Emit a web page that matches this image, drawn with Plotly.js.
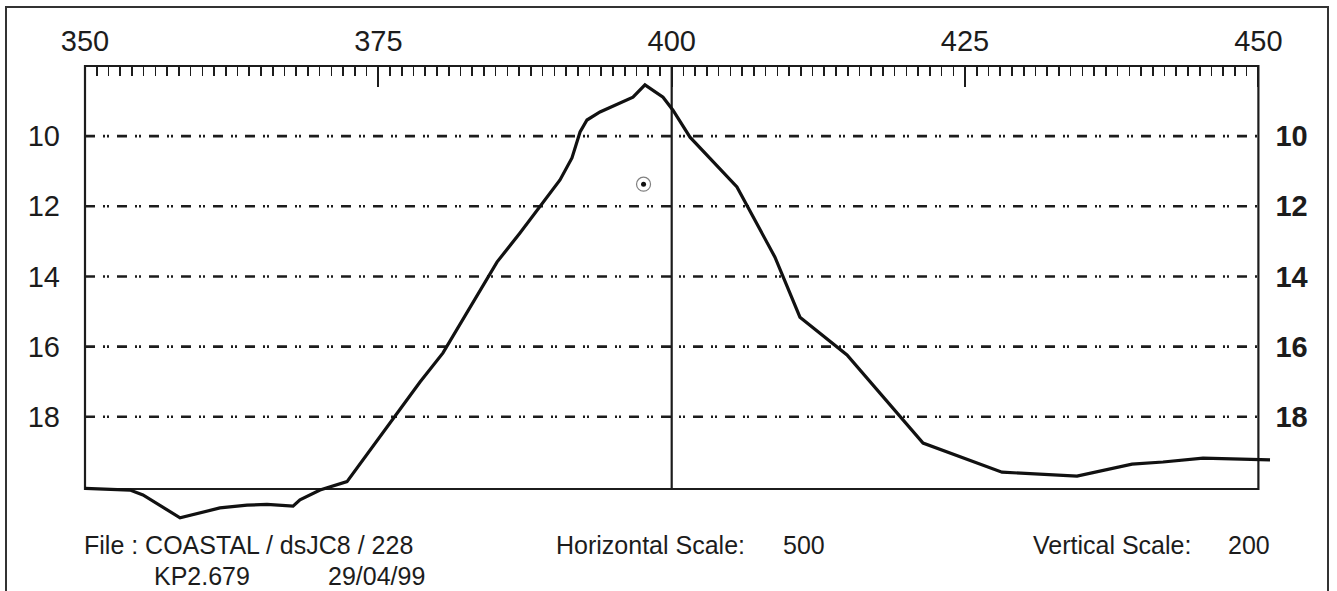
<!DOCTYPE html>
<html>
<head>
<meta charset="utf-8">
<script src="https://cdn.plot.ly/plotly-3.0.1.min.js"></script>
<style>
  html, body { margin: 0; padding: 0; background: #ffffff; }
  #chart { width: 1337px; height: 591px; }
</style>
</head>
<body>
<div id="chart"></div>
<script>
// ---------- data ----------
const xTickVals = [350, 375, 400, 425, 450];
const yTickVals = [10, 12, 14, 16, 18];

const profileX = [350.00, 353.84, 354.94, 358.10, 361.50, 363.81, 365.51, 367.73, 368.32, 370.03,
                  372.33, 378.55, 380.51, 382.81, 385.11, 387.07, 388.78, 390.48, 391.50, 392.19,
                  392.78, 393.89, 396.70, 397.72, 399.26, 400.11, 401.56, 405.56, 408.80, 410.93,
                  414.94, 421.42, 428.15, 434.54, 439.23, 441.87, 445.28, 450.99];
const profileY = [20.04, 20.09, 20.23, 20.88, 20.60, 20.52, 20.50, 20.55, 20.37, 20.09,
                  19.85, 17.01, 16.18, 14.87, 13.59, 12.76, 12.02, 11.25, 10.62, 9.88,
                  9.54, 9.31, 8.89, 8.54, 8.89, 9.26, 10.03, 11.45, 13.45, 15.16,
                  16.24, 18.75, 19.58, 19.69, 19.35, 19.29, 19.18, 19.23];

const markerX = [397.6];
const markerY = [11.37];

const fileLabel = 'File : COASTAL / dsJC8 / 228';
const kpLabel = 'KP2.679';
const dateLabel = '29/04/99';
const hScaleLabel = 'Horizontal Scale:';
const hScaleValue = '500';
const vScaleLabel = 'Vertical Scale:';
const vScaleValue = '200';

// ---------- layout geometry ----------
const W = 1337, H = 591;
const M = { l: 85, r: 61, t: 66, b: 62 };
const plotW = W - M.l - M.r, plotH = H - M.t - M.b;
const xRange = [350, 451.5];
const yRange = [21.2, 8];
const boxBottom = 20.06;
const FONT = 'Liberation Sans, Arial, Helvetica, sans-serif';
const INK = '#1c1c1c';

const pxX = v => (v - xRange[0]) / (xRange[1] - xRange[0]);   // data -> paper
const pxY = v => (yRange[0] - v) / (yRange[0] - yRange[1]);
const scrX = p => (p - M.l) / plotW;                            // screen px -> paper
const scrY = p => (H - M.b - p) / plotH;

const minorVals = [];
for (let v = xTickVals[0] + 1; v < xTickVals[xTickVals.length - 1]; v++) {
  if (xTickVals.indexOf(v) < 0) minorVals.push(v);
}

const shapes = [];
// horizontal dash-dot-dot grid lines
yTickVals.forEach(v => shapes.push({
  type: 'line', xref: 'x', yref: 'y', x0: xTickVals[0], x1: xTickVals[xTickVals.length - 1], y0: v, y1: v,
  line: { color: INK, width: 2.6, dash: '10px,8px,2px,2px,2px,8px' }, layer: 'below'
}));
// vertical line at 400
shapes.push({
  type: 'line', xref: 'x', yref: 'y', x0: xTickVals[2], x1: xTickVals[2], y0: yRange[1], y1: boxBottom,
  line: { color: INK, width: 2.2 }, layer: 'below'
});
// plot frame
shapes.push({
  type: 'rect', xref: 'paper', yref: 'paper',
  x0: pxX(xTickVals[0]), x1: pxX(xTickVals[xTickVals.length - 1]), y0: pxY(boxBottom), y1: pxY(yRange[1]),
  line: { color: INK, width: 2.2 }, fillcolor: 'rgba(0,0,0,0)', layer: 'below'
});
// outer page frame
shapes.push({
  type: 'rect', xref: 'paper', yref: 'paper',
  x0: scrX(6), x1: scrX(1328), y0: scrY(640), y1: scrY(7),
  line: { color: '#333', width: 2 }, fillcolor: 'rgba(0,0,0,0)', layer: 'below'
});

const annFont = { family: FONT, size: 25, color: INK };
const ann = (text, px, py) => ({
  text: text, xref: 'paper', yref: 'paper', x: scrX(px), y: scrY(py),
  xanchor: 'left', yanchor: 'middle', showarrow: false, font: annFont
});
const annotations = [
  ann(fileLabel, 82, 545),
  ann(kpLabel, 152, 576),
  ann(dateLabel, 326, 576),
  ann(hScaleLabel, 554, 545),
  ann(hScaleValue, 781, 545),
  ann(vScaleLabel, 1031, 545),
  ann(vScaleValue, 1226, 545)
];

const traces = [
  {
    x: profileX, y: profileY, type: 'scatter', mode: 'lines',
    line: { color: '#111', width: 3.2 }, hoverinfo: 'skip', showlegend: false
  },
  {
    x: markerX, y: markerY, type: 'scatter', mode: 'markers',
    marker: { symbol: 'circle-open', size: 14, color: '#808080', line: { color: '#808080', width: 1.2 } },
    hoverinfo: 'skip', showlegend: false
  },
  {
    x: markerX, y: markerY, type: 'scatter', mode: 'markers',
    marker: { symbol: 'circle', size: 5, color: '#111' },
    hoverinfo: 'skip', showlegend: false
  },
  { x: [], y: [], yaxis: 'y2', type: 'scatter', mode: 'lines', showlegend: false, hoverinfo: 'skip' }
];

const layout = {
  width: W, height: H, margin: M,
  paper_bgcolor: '#ffffff', plot_bgcolor: '#ffffff',
  showlegend: false, hovermode: false,
  font: { family: FONT, color: INK },
  xaxis: {
    side: 'top', range: xRange, tickmode: 'array', tickvals: xTickVals,
    ticks: 'inside', ticklen: 21, tickwidth: 2, tickcolor: INK,
    tickfont: { family: FONT, size: 29, color: INK },
    ticklabelstandoff: 8,
    showgrid: false, zeroline: false, showline: false,
    minor: { tickmode: 'array', tickvals: minorVals, ticks: 'inside', ticklen: 10, tickwidth: 1.6, tickcolor: INK, showgrid: false }
  },
  yaxis: {
    range: yRange, tickmode: 'array', tickvals: yTickVals,
    ticks: '', showgrid: false, zeroline: false, showline: false,
    tickfont: { family: FONT, size: 29, color: INK },
    ticklabelstandoff: 24
  },
  yaxis2: {
    overlaying: 'y', anchor: 'free', position: pxX(xTickVals[xTickVals.length - 1]), side: 'right',
    range: yRange, tickmode: 'array', tickvals: yTickVals,
    ticks: '', showgrid: false, zeroline: false, showline: false,
    tickfont: { family: FONT, size: 29, color: INK, weight: 'bold' },
    ticklabelstandoff: 16
  },
  shapes: shapes,
  annotations: annotations
};

Plotly.newPlot('chart', traces, layout, { staticPlot: true, displayModeBar: false });
</script>
</body>
</html>
